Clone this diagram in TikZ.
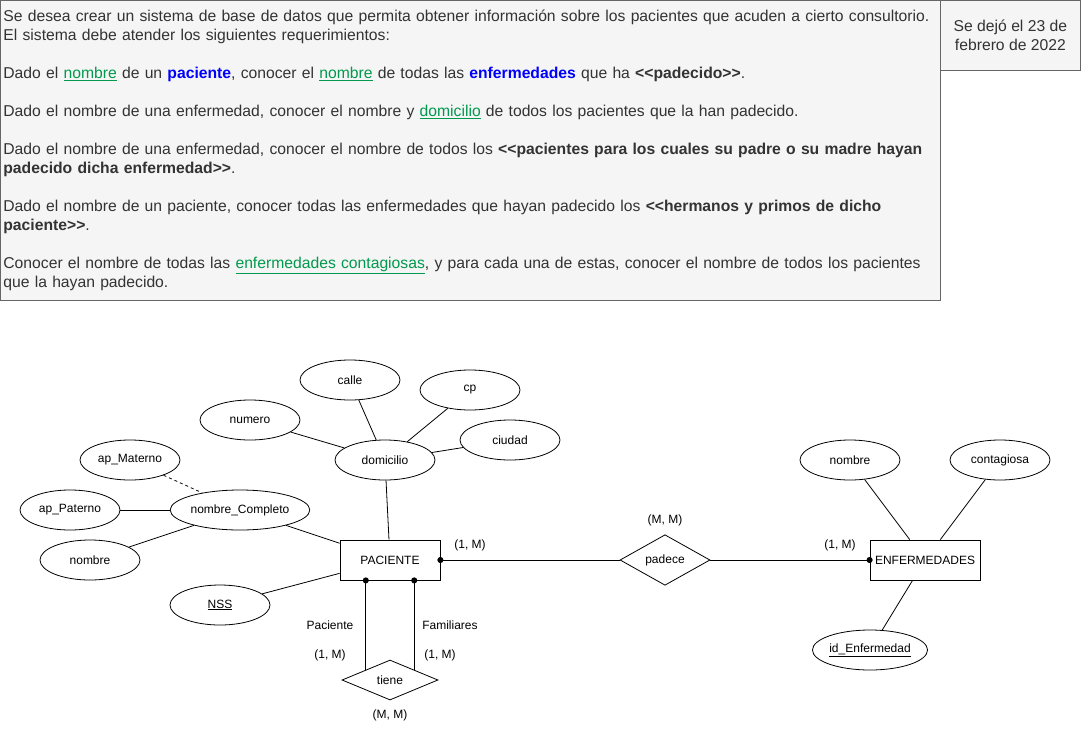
\documentclass[tikz,border=0pt]{standalone}
\usepackage{fontspec}
\setmainfont{Liberation Sans}
\usetikzlibrary{arrows.meta, shapes.geometric}
\tikzset{>={Circle[length=6pt]}}
\definecolor{notefill}{HTML}{F5F5F5}
\definecolor{noteline}{HTML}{666666}
\definecolor{notetext}{HTML}{333333}
\definecolor{keygreen}{HTML}{00994D}
\definecolor{keyblue}{HTML}{0000FF}
\newcommand{\campo}[1]{\textcolor{keygreen}{\underline{#1}}}
\newcommand{\entidad}[1]{\textcolor{keyblue}{\textbf{#1}}}

\begin{document}
\begin{tikzpicture}[x = 1pt, y = -1pt, line width = 0.8pt, font = \fontsize{12}{14}\selectfont,
    attr/.style = {ellipse, draw, minimum width = 100, minimum height = 40, inner sep = 0},
    entity/.style = {rectangle, draw, minimum width = 100, minimum height = 40},
    relation/.style = {diamond, draw, minimum width = 90, minimum height = 50, inner sep = 0},
    note/.style = {draw = noteline, fill = notefill, text = notetext, font = {\fontsize{15.7}{19}\selectfont\hyphenpenalty = 10000}}]
      \useasboundingbox (0, 0) rectangle (1081, 731);
      \node[note, anchor = north west, minimum width = 940, minimum height = 300, text width = 934pt, inner sep = 3pt, align = left] (requisitos) at (0, 0) {Se desea crear un sistema de base de datos que permita obtener información sobre los pacientes que acuden a cierto consultorio.\\
        El sistema debe atender los siguientes requerimientos:\\[19pt]
        Dado el \campo{nombre} de un \entidad{paciente}, conocer el \campo{nombre} de todas las \entidad{enfermedades} que ha \textbf{{<}{<}padecido{>}{>}}.\\[19pt]
        Dado el nombre de una enfermedad, conocer el nombre y \campo{domicilio} de todos los pacientes que la han padecido.\\[19pt]
        Dado el nombre de una enfermedad, conocer el nombre de todos los \textbf{{<}{<}pacientes para los cuales su padre o su madre hayan}\\
        \textbf{padecido dicha enfermedad{>}{>}}.\\[19pt]
        Dado el nombre de un paciente, conocer todas las enfermedades que hayan padecido los \textbf{{<}{<}hermanos y primos de dicho}\\
        \textbf{paciente{>}{>}}.\\[19pt]
        Conocer el nombre de todas las \campo{enfermedades contagiosas}, y para cada una de estas, conocer el nombre de todos los pacientes\\
        que la hayan padecido.};
      \node[note, anchor = north west, minimum width = 140, minimum height = 70, align = center] (fecha) at (940, 0) {Se dejó el 23 de\\febrero de 2022};

      \node[attr] (calle) at (350, 380) {calle};
      \node[attr] (cp) at (470, 390) {cp};
      \node[attr] (numero) at (250, 420) {numero};
      \node[attr] (ciudad) at (510, 440) {ciudad};
      \node[attr] (domicilio) at (385, 460) {domicilio};
      \node[attr] (ap_materno) at (130, 460) {ap\_Materno};
      \node[attr] (ap_paterno) at (70, 510) {ap\_Paterno};
      \node[attr, minimum width = 120] (nombre_completo) at (240, 510) {nombre\_Completo};
      \node[attr] (nombre) at (90, 560) {nombre};
      \node[attr] (nss) at (220, 605) {\underline{NSS}};
      \node[entity] (paciente) at (390, 560) {PACIENTE};
      \node[relation] (padece) at (665, 560) {padece};
      \node[entity, minimum width = 110] (enfermedades) at (925, 560) {ENFERMEDADES};
      \node[attr] (nombre_enf) at (850, 460) {nombre};
      \node[attr] (contagiosa) at (1000, 460) {contagiosa};
      \node[attr] (id_enf) at (870, 650) {\underline{id\_Enfermedad}};
      \node[relation, minimum width = 96, minimum height = 40] (tiene) at (390, 680) {tiene};

      \node (card_pac) at (470, 545) {(1, M)};
      \node (card_padece) at (665, 520) {(M, M)};
      \node (card_enf) at (840, 545) {(1, M)};
      \node (rol_paciente) at (330, 625) {Paciente};
      \node (card_paciente) at (330, 655) {(1, M)};
      \node (rol_familiares) at (450, 625) {Familiares};
      \node (card_familiares) at (440, 655) {(1, M)};
      \node (card_tiene) at (390, 715) {(M, M)};

      \draw (calle) -- (domicilio);
      \draw (cp) -- (domicilio);
      \draw (numero) -- (domicilio);
      \draw (ciudad) -- (domicilio);
      \draw (domicilio) -- (paciente);
      \draw[dash pattern = on 3pt off 3pt] (ap_materno) -- (nombre_completo);
      \draw (ap_paterno) -- (nombre_completo);
      \draw (nombre) -- (nombre_completo);
      \draw (nombre_completo) -- (paciente);
      \draw (nss) -- (paciente);
      \draw[<-, shorten <= -3pt] (paciente) -- (padece);
      \draw[->, shorten >= -3pt] (padece) -- (enfermedades);
      \draw[<-, shorten <= -3pt] (paciente.south -| tiene.north west) -- (tiene.north west);
      \draw[<-, shorten <= -3pt] (paciente.south -| tiene.north east) -- (tiene.north east);
      \draw (enfermedades) -- (nombre_enf);
      \draw (enfermedades) -- (contagiosa);
      \draw (enfermedades) -- (id_enf);
    \end{tikzpicture}
\end{document}
